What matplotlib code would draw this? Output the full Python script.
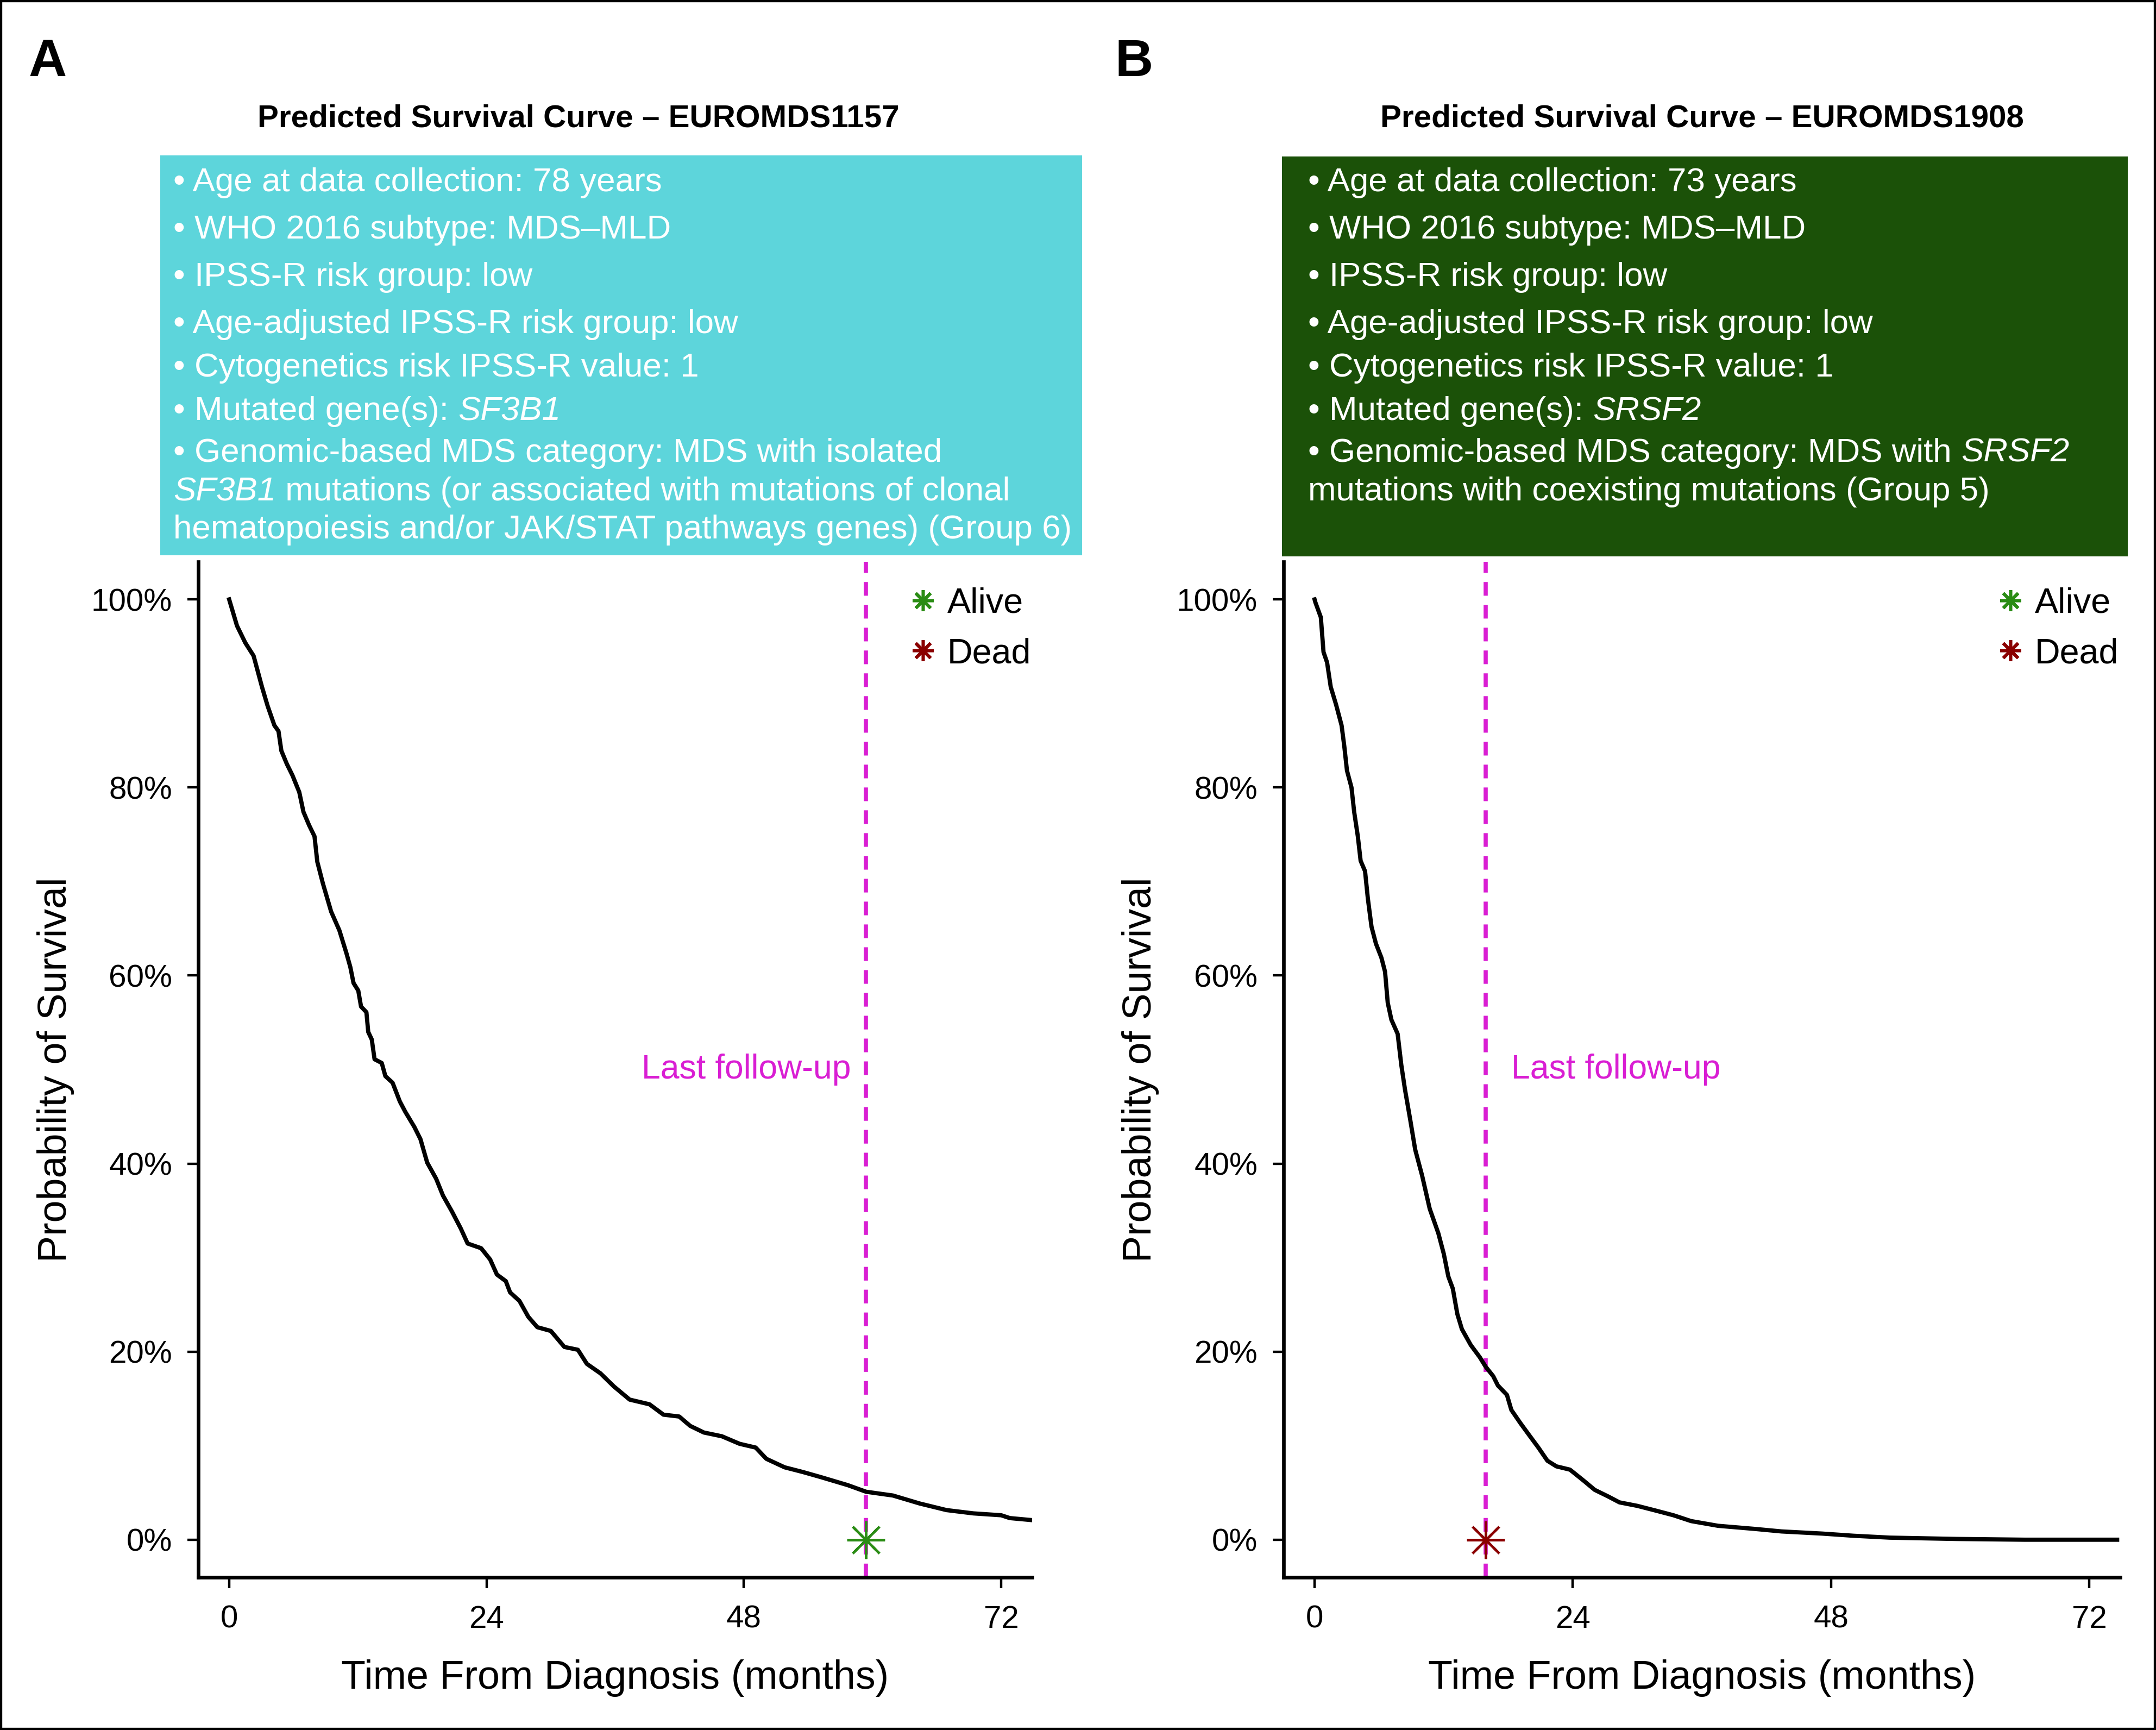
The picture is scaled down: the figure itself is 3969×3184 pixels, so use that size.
import matplotlib
matplotlib.use('Agg')
import matplotlib.pyplot as plt
from matplotlib.lines import Line2D
from matplotlib.patches import Rectangle

# ---------------- data ----------------
a_months = [0, 0.73, 1.5, 2.28, 3.06, 3.58, 4.22, 4.6, 4.87, 5.38, 5.9, 6.54, 6.93, 7.45,
            7.96, 8.22, 8.74, 9.51, 10.28, 10.93, 11.3, 11.6, 12.04, 12.3, 12.8, 12.97,
            13.3, 13.56, 14.23, 14.57, 15.24, 15.92, 16.43, 17.27, 17.84, 18.47, 19.3,
            19.94, 20.78, 21.6, 22.24, 23.5, 24.34, 24.97, 25.8, 26.2, 27.07, 27.9, 28.74,
            30.0, 31.26, 32.52, 33.36, 34.62, 35.88, 37.35, 39.2, 40.5, 41.97, 43.0, 44.27,
            45.95, 47.6, 49.1, 50.1, 51.8, 53.5, 55.2, 57.7, 59.4, 61.9, 64.4, 66.9, 69.4,
            72.0, 72.8, 74.7]
a_surv = [100, 97.2, 95.4, 94.0, 90.7, 88.7, 86.6, 86.0, 83.9, 82.5, 81.3, 79.5, 77.4, 76.0,
          74.8, 72.1, 69.8, 66.8, 64.8, 62.4, 60.9, 59.2, 58.4, 56.7, 56.1, 54.0,
          53.2, 51.1, 50.7, 49.3, 48.6, 46.6, 45.5, 43.9, 42.6, 40.1, 38.4,
          36.6, 34.9, 33.1, 31.5, 31.0, 29.8, 28.2, 27.5, 26.3, 25.4, 23.7, 22.6,
          22.2, 20.5, 20.2, 18.7, 17.7, 16.3, 14.9, 14.4, 13.3, 13.1, 12.1, 11.4,
          11.0, 10.2, 9.8, 8.6, 7.7, 7.2, 6.65, 5.8, 5.1, 4.7, 3.85, 3.15, 2.8,
          2.6, 2.3, 2.1]

b_months = [0, 0.07, 0.58, 0.83, 1.16, 1.5, 2.0, 2.51, 2.76, 3.01, 3.43, 3.68, 4.02, 4.28,
            4.69, 4.95, 5.29, 5.7, 6.21, 6.55, 6.8, 7.14, 7.72, 8.06, 8.4, 8.9, 9.35, 10.0,
            10.7, 11.5, 12.01, 12.43, 12.85, 13.27, 13.69, 14.52, 15.36, 15.9, 16.6, 17.04,
            17.88, 18.29, 19.13, 19.96, 20.8, 21.64, 22.48, 23.74, 24.99, 26.04, 27.29,
            28.34, 30.0, 31.7, 33.36, 35.0, 37.5, 40.9, 43.4, 47.2, 50.1, 53.45, 59.7,
            66.0, 74.6]
b_surv = [100, 99.7, 98.1, 94.4, 93.3, 90.7, 88.8, 86.6, 84.4, 81.8, 80.0, 77.4, 74.8, 72.2,
          71.1, 68.2, 65.2, 63.4, 61.9, 60.4, 57.1, 55.3, 53.8, 50.5, 47.9, 44.6, 41.5, 38.7,
          35.2, 32.6, 30.4, 28.0, 26.7, 24.0, 22.4, 20.7, 19.4, 18.4, 17.4, 16.4,
          15.4, 13.8, 12.4, 11.1, 9.8, 8.4, 7.8, 7.45, 6.3, 5.3, 4.6,
          3.97, 3.6, 3.1, 2.6, 1.98, 1.48, 1.15, 0.88, 0.65, 0.42, 0.22, 0.08,
          0.0, 0.0]

a_last_followup = 59.4
b_last_followup = 15.9
status_labels = ['Alive', 'Dead']
status_colors = ['#2A8C14', '#8B0000']
a_status = 'Alive'
b_status = 'Dead'

x_ticks = [0, 24, 48, 72]
y_ticks = [0, 20, 40, 60, 80, 100]
y_tick_labels = ['0%', '20%', '40%', '60%', '80%', '100%']
x_label = 'Time From Diagnosis (months)'
y_label = 'Probability of Survival'
followup_label = 'Last follow-up'

a_title = 'Predicted Survival Curve \u2013 EUROMDS1157'
b_title = 'Predicted Survival Curve \u2013 EUROMDS1908'
# text between *...* is set in italics
a_info = [
    '\u2022 Age at data collection: 78 years',
    '\u2022 WHO 2016 subtype: MDS\u2013MLD',
    '\u2022 IPSS-R risk group: low',
    '\u2022 Age-adjusted IPSS-R risk group: low',
    '\u2022 Cytogenetics risk IPSS-R value: 1',
    '\u2022 Mutated gene(s): *SF3B1*',
    '\u2022 Genomic-based MDS category: MDS with isolated',
    '*SF3B1* mutations (or associated with mutations of clonal',
    'hematopoiesis and/or JAK/STAT pathways genes) (Group 6)',
]
b_info = [
    '\u2022 Age at data collection: 73 years',
    '\u2022 WHO 2016 subtype: MDS\u2013MLD',
    '\u2022 IPSS-R risk group: low',
    '\u2022 Age-adjusted IPSS-R risk group: low',
    '\u2022 Cytogenetics risk IPSS-R value: 1',
    '\u2022 Mutated gene(s): *SRSF2*',
    '\u2022 Genomic-based MDS category: MDS with *SRSF2*',
    'mutations with coexisting mutations (Group 5)',
]

# ---------------- style ----------------
plt.rcParams['font.family'] = ['Liberation Sans', 'DejaVu Sans']

W, H, DPI = 3969, 3184, 100
fig = plt.figure(figsize=(W / DPI, H / DPI), dpi=DPI)
renderer = fig.canvas.get_renderer()


def fx(px):
    return px / W


def fy(py):
    return 1 - py / H


def text_width_px(s, **kw):
    t = fig.text(0, 0, s, **kw)
    w = t.get_window_extent(renderer).width
    t.remove()
    return w


def rich_text(x_px, base_px, s, **kw):
    parts = s.split('*')
    x = x_px
    for i, part in enumerate(parts):
        if not part:
            continue
        style = 'italic' if i % 2 else 'normal'
        fig.text(fx(x), fy(base_px), part, style=style, ha='left', va='baseline', **kw)
        x += text_width_px(part + 'x', style=style, **kw) - text_width_px('x', style=style, **kw)


MAGENTA = '#D91ED3'
INFO_BASELINES = [352, 439, 526, 613, 693, 773, 850, 921, 991]
AX_TOP, AX_BOTTOM = 1034, 2903

panels = [
    dict(letter='A', letter_xy=(88, 140), title=a_title, title_x=1065,
         ax_l=365, ax_r=1900, box=(295, 286, 1992, 1022), box_color='#5DD5DB',
         text_x=319, info=a_info, months=a_months, surv=a_surv,
         lfu=a_last_followup, status=a_status, lfu_side='left'),
    dict(letter='B', letter_xy=(2088, 140), title=b_title, title_x=3133,
         ax_l=2363, ax_r=3903, box=(2360, 288, 3917, 1024), box_color='#1B5108',
         text_x=2408, info=b_info, months=b_months, surv=b_surv,
         lfu=b_last_followup, status=b_status, lfu_side='right'),
]

for p in panels:
    # panel letter and title
    fig.text(fx(p['letter_xy'][0]), fy(p['letter_xy'][1]), p['letter'], fontsize=70,
             fontweight='bold', ha='center', va='baseline')
    fig.text(fx(p['title_x']), fy(234), p['title'], fontsize=42, fontweight='bold',
             ha='center', va='baseline')
    # info box
    l, t, r, b = p['box']
    fig.patches.append(Rectangle((fx(l), fy(b)), fx(r - l), (b - t) / H,
                                 transform=fig.transFigure, facecolor=p['box_color'],
                                 edgecolor='none', zorder=0))
    for line, base in zip(p['info'], INFO_BASELINES):
        rich_text(p['text_x'], base, line, fontsize=44.6, color='white')

    # axes
    ax = fig.add_axes([fx(p['ax_l']), fy(AX_BOTTOM), fx(p['ax_r'] - p['ax_l']),
                       (AX_BOTTOM - AX_TOP) / H])
    ax.plot(p['months'], p['surv'], color='black', lw=5.6, zorder=3)
    ax.axvline(p['lfu'], color=MAGENTA, lw=5.5, dashes=(3.3, 2.2), zorder=2)
    col = status_colors[status_labels.index(p['status'])]
    ax.plot([p['lfu']], [0], ls='none', marker=(8, 2, 0), ms=50, mew=3.2,
            color=col, zorder=4)
    if p['lfu_side'] == 'left':
        ax.annotate(followup_label, xy=(p['lfu'], 50), xytext=(-20, 0),
                    textcoords='offset points', ha='right', va='center',
                    color=MAGENTA, fontsize=45)
    else:
        ax.annotate(followup_label, xy=(p['lfu'], 50), xytext=(34, 0),
                    textcoords='offset points', ha='left', va='center',
                    color=MAGENTA, fontsize=45)

    ax.set_xlim(-2.88, 74.88)
    ax.set_ylim(-4, 104)
    ax.set_xticks(x_ticks)
    ax.set_xticklabels([str(v) for v in x_ticks])
    ax.set_yticks(y_ticks)
    ax.set_yticklabels(y_tick_labels)
    for side in ['top', 'right']:
        ax.spines[side].set_visible(False)
    for side in ['left', 'bottom']:
        ax.spines[side].set_linewidth(4.8)
    ax.tick_params(axis='both', length=14.4, width=3.2, labelsize=42, direction='out')
    ax.tick_params(axis='x', pad=22)
    ax.tick_params(axis='y', pad=20)
    ax.set_xlabel(x_label, fontsize=53)
    ax.set_ylabel(y_label, fontsize=53)
    ax.xaxis.set_label_coords(0.5, -0.0806)
    ax.yaxis.set_label_coords(-0.1486, 0.5)

    handles = [Line2D([], [], ls='none', marker=(8, 2, 0), ms=28, mew=4.0, color=c)
               for c in status_colors]
    ax.legend(handles, status_labels, loc='upper left', bbox_to_anchor=(0.852, 0.975),
              frameon=False, fontsize=46.5, handlelength=0.8, handletextpad=0.3,
              borderpad=0, borderaxespad=0, labelspacing=0.5)

# outer frame
fig.patches.append(Rectangle((0, 0), 1, 1, transform=fig.transFigure, fill=False,
                             edgecolor='black', lw=6, zorder=10))

fig.savefig('out.png', dpi=DPI)
